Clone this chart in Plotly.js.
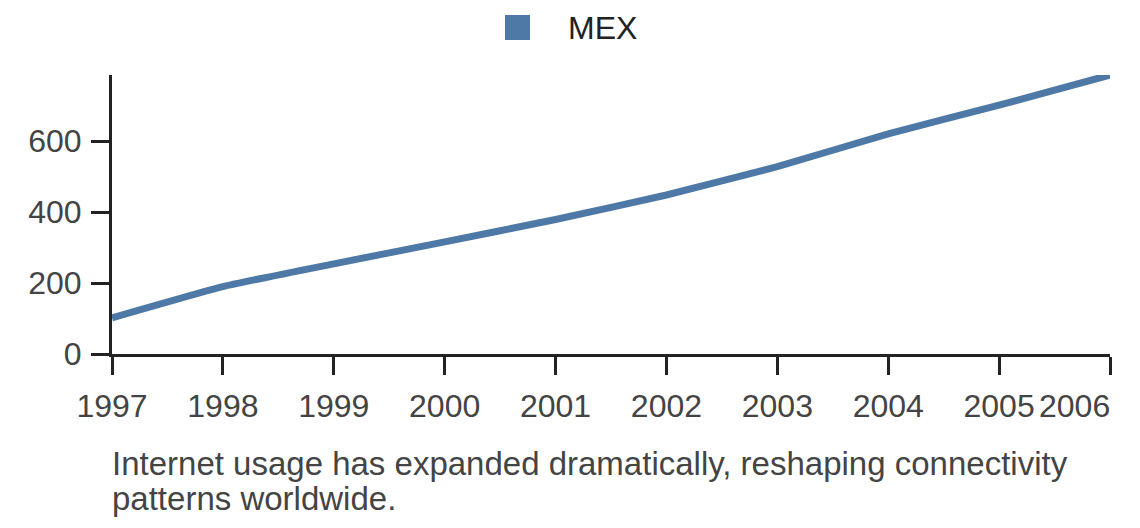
<!DOCTYPE html>
<html>
<head>
<meta charset="utf-8">
<script src="https://cdn.plot.ly/plotly-3.0.1.min.js"></script>
<style>
  html, body { margin: 0; padding: 0; background: #fff; }
  #chart { width: 1140px; height: 528px; }
</style>
</head>
<body>
<div id="chart"></div>
<script>
// data
const years = [1997, 1998, 1999, 2000, 2001, 2002, 2003, 2004, 2005, 2006];
const mexValues = [102, 190, 254, 316, 379, 448, 528, 620, 701, 786];
const yTicks = [0, 200, 400, 600];
const seriesName = 'MEX';
const captionLines = [
  'Internet usage has expanded dramatically, reshaping connectivity',
  'patterns worldwide.'
];

const blue = '#4e79a7';
const font = 'Arial, "Liberation Sans", sans-serif';
const lastYear = years[years.length - 1];

// the last label is right-aligned to its tick in the reference, so it is drawn as an annotation
const tickText = years.map(y => y === lastYear ? '' : String(y));

const trace = {
  x: years,
  y: mexValues,
  type: 'scatter',
  mode: 'lines',
  name: seriesName,
  showlegend: false,
  line: { color: blue, width: 7, shape: 'spline', smoothing: 0.4 },
  hoverinfo: 'x+y'
};

const plotW = 1140 - 112 - 30;
const plotH = 528 - 75 - 174;

const annotations = captionLines.map((t, i) => ({
  text: t,
  xref: 'paper', yref: 'paper',
  x: 0, y: (354 - 484 - i * 35) / plotH,
  xanchor: 'left', yanchor: 'bottom',
  xshift: -2,
  showarrow: false,
  font: { family: font, size: 33, color: '#444' }
}));

annotations.push({
  text: String(lastYear),
  xref: 'x', yref: 'paper',
  x: lastYear, y: (354 - 406) / plotH,
  xanchor: 'right', yanchor: 'middle',
  xshift: 2,
  showarrow: false,
  font: { family: font, size: 32, color: '#444' }
});

annotations.push({
  text: seriesName,
  xref: 'paper', yref: 'paper',
  x: (566 - 112) / plotW, y: (354 - 28) / plotH,
  xanchor: 'left', yanchor: 'middle',
  showarrow: false,
  font: { family: font, size: 32, color: '#222' }
});

const axisCommon = {
  showgrid: false,
  zeroline: false,
  showline: true,
  linecolor: '#222',
  linewidth: 3,
  ticks: 'outside',
  ticklen: 18,
  tickwidth: 3,
  tickcolor: '#222',
  tickfont: { family: font, size: 32, color: '#444' },
  automargin: false
};

const layout = {
  width: 1140,
  height: 528,
  margin: { l: 112, r: 30, t: 75, b: 174 },
  paper_bgcolor: '#fff',
  plot_bgcolor: '#fff',
  font: { family: font, size: 32, color: '#444' },
  showlegend: false,
  xaxis: Object.assign({}, axisCommon, {
    range: [years[0], lastYear],
    tickvals: years,
    ticktext: tickText,
    tickangle: 0,
    ticklabelstandoff: 4
  }),
  yaxis: Object.assign({}, axisCommon, {
    range: [0, Math.max(...mexValues)],
    tickvals: yTicks,
    ticklabelstandoff: 3
  }),
  shapes: [{
    type: 'rect',
    xref: 'paper', yref: 'paper',
    x0: (505 - 112) / plotW, x1: (530 - 112) / plotW,
    y0: (354 - 40) / plotH, y1: (354 - 15) / plotH,
    fillcolor: blue,
    line: { width: 0 }
  }],
  annotations: annotations
};

Plotly.newPlot('chart', [trace], layout, { displayModeBar: false, staticPlot: true });
</script>
</body>
</html>
